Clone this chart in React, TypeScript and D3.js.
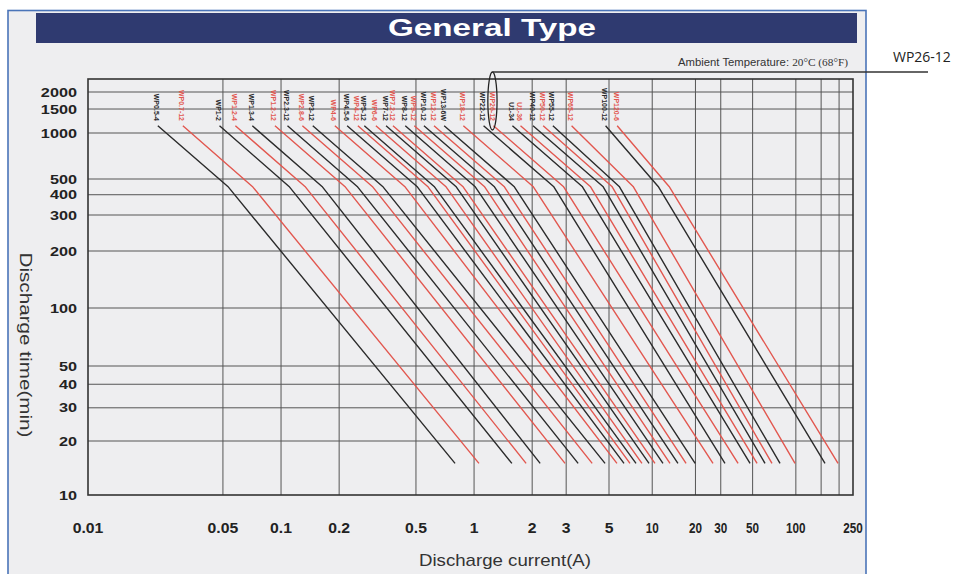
import React from "react";
import * as d3 from "d3";

// ---- data ----
const modelNames = [
  "WP0.5-4", "WP0.7-12", "WP1-2", "WP1.2-4", "WP1.3-4", "WP1.2-12", "WP2.3-12", "WP2.8-6",
  "WP3-12", "WP4-6", "WP4.5-6", "WP4-12", "WP5-12", "WP6-6", "WP7-12", "WP7.2-12",
  "WP8-12", "WP9-12", "WP10-12", "WP12-12", "WP13-6W", "WP18-12", "WP22-12", "WP26-12",
  "U1-34", "U1-36", "WP40-12", "WP50-12", "WP55-12", "WP65-12", "WP100-12", "WP120-6",
];
// discharge time (min) at the three vertices of every curve
const timePoints = [1130, 450, 15];
// discharge current (A) at those times
const currentTop = [
  0.023, 0.031, 0.048, 0.058, 0.071, 0.093, 0.108, 0.129,
  0.146, 0.19, 0.22, 0.25, 0.27, 0.31, 0.35, 0.38,
  0.44, 0.49, 0.55, 0.62, 0.70, 0.88, 1.12, 1.26,
  1.58, 1.74, 2.02, 2.28, 2.56, 3.2, 4.8, 5.7,
];
const currentKnee = [
  0.053, 0.071, 0.11, 0.133, 0.163, 0.214, 0.248, 0.297,
  0.336, 0.437, 0.506, 0.575, 0.621, 0.713, 0.805, 0.874,
  1.01, 1.13, 1.27, 1.43, 1.61, 2.02, 2.58, 2.9,
  3.63, 4.0, 4.65, 5.24, 5.89, 7.36, 11.0, 13.1,
];
const currentEnd = [
  0.797, 1.06, 1.57, 1.86, 2.2, 2.96, 3.46, 4.09,
  4.77, 5.68, 6.36, 7.0, 7.71, 8.48, 9.5, 10.45,
  11.88, 13.3, 15.1, 17.2, 19.9, 26.5, 32.1, 39.6,
  48.0, 53.7, 61.0, 68.2, 77.6, 98.7, 159.6, 196.7,
];
const xTickValues = [0.01, 0.05, 0.1, 0.2, 0.5, 1, 2, 3, 5, 10, 20, 30, 50, 100, 250];
const xGridValues = [0.05, 0.1, 0.2, 0.5, 1, 2, 3, 5, 10, 20, 30, 50, 100, 150, 200];
const yTickValues = [2000, 1500, 1000, 500, 400, 300, 200, 100, 50, 40, 30, 20, 10];
const yGridValues = [2000, 1500, 1000, 500, 400, 300, 200, 100, 50, 40, 30, 20];
const highlighted = "WP26-12";

// ---- scales (the scanned chart is unevenly stretched, so piecewise log scales) ----
const x = d3.scaleLog().domain([0.01, 5, 250]).range([88, 609, 853]);
const y = d3
  .scaleLog()
  .domain([10, 20, 50, 100, 200, 300, 500, 1000, 2000, 2460])
  .range([495, 441, 366, 308, 251, 215, 179, 133, 92, 79]);

const BLACK = "#2b2b2b";
const RED = "#e2574f";

export default function App() {
  const line = d3
    .line<[number, number]>()
    .x((d) => x(d[0]))
    .y((d) => y(d[1]));

  const curves = modelNames.map((name, i) => {
    const pts: [number, number][] = [
      [currentTop[i], timePoints[0]],
      [currentKnee[i], timePoints[1]],
      [currentEnd[i], timePoints[2]],
    ];
    return { name, color: i % 2 === 0 ? BLACK : RED, path: line(pts) || "", x0: x(currentTop[i]) };
  });

  const hiIdx = modelNames.indexOf(highlighted);
  const hiX = x(currentTop[hiIdx]) - 1;

  const x0 = x(0.01), x1 = x(250), yTop = y(2460), yBot = y(10);

  return (
    <svg width={962} height={574} style={{ position: "absolute", left: 0, top: 0, background: "#fff" }}>
      <rect x={8} y={10.5} width={858} height={570} fill="#eeeef0" stroke="#4a74b8" strokeWidth={1.6} />
      <rect x={36} y={13} width={821} height={30} fill="#2f3a70" />
      <text x={492} y={36} textAnchor="middle" fill="#fff" fontFamily="Liberation Sans, Arial" fontWeight="bold"
        fontSize={24} textLength={208} lengthAdjust="spacingAndGlyphs">General Type</text>
      <text x={848} y={66} textAnchor="end" fill="#333" fontSize={10.5} textLength={170} lengthAdjust="spacingAndGlyphs">
        <tspan fontFamily="Liberation Sans, Arial">Ambient Temperature: </tspan>
        <tspan fontFamily="Liberation Serif, Times New Roman">20°C (68°F)</tspan>
      </text>
      <text x={893} y={62} fill="#222" fontFamily="Open Sans, Liberation Sans" fontSize={14}>WP26-12</text>

      {/* grid */}
      {xGridValues.map((v) => (
        <line key={"gx" + v} x1={x(v)} x2={x(v)} y1={yTop} y2={yBot} stroke="#555" strokeWidth={1} />
      ))}
      {yGridValues.map((v) => (
        <line key={"gy" + v} x1={x0} x2={x1} y1={y(v)} y2={y(v)} stroke="#555" strokeWidth={1} />
      ))}
      <rect x={x0} y={yTop} width={x1 - x0} height={yBot - yTop} fill="none" stroke="#333" strokeWidth={1.6} />

      {/* curves */}
      {curves.map((c) => (
        <path key={c.name} d={c.path} fill="none" stroke={c.color} strokeWidth={1.4} strokeLinejoin="round" />
      ))}
      {curves.map((c) => (
        <text key={"l" + c.name} transform={`translate(${c.x0 - 1},121) rotate(90)`} textAnchor="end"
          dy="0.35em" fill={c.color} fontFamily="Liberation Sans, Arial" fontWeight="bold" fontSize={7}>
          {c.name}
        </text>
      ))}

      {/* highlight annotation */}
      <ellipse cx={hiX} cy={101} rx={4.6} ry={29} fill="none" stroke="#222" strokeWidth={1.3} />
      <line x1={hiX} x2={928} y1={72} y2={72} stroke="#333" strokeWidth={1.6} />

      {/* tick labels */}
      {xTickValues.map((v) => (
        <text key={"tx" + v} transform={`translate(${x(v)},533) scale(${v > 5 ? 0.78 : 1.05},1)`} textAnchor="middle"
          fill="#222" fontFamily="Liberation Sans, Arial" fontWeight="bold" fontSize={15}>{v}</text>
      ))}
      {yTickValues.map((v) => (
        <text key={"ty" + v} transform={`translate(77,${y(v)}) scale(1.3,1)`} textAnchor="end" dy="0.36em"
          fill="#222" fontFamily="Liberation Sans, Arial" fontWeight="bold" fontSize={12.5}>{v}</text>
      ))}

      {/* axis titles */}
      <text x={505} y={566} textAnchor="middle" fill="#333" fontFamily="Liberation Sans, Arial" fontSize={17}
        textLength={172} lengthAdjust="spacingAndGlyphs">Discharge current(A)</text>
      <text transform="translate(20,345) rotate(90)" textAnchor="middle" fill="#333" fontFamily="Liberation Sans, Arial"
        fontSize={16} textLength={185} lengthAdjust="spacingAndGlyphs">Discharge time(min)</text>
    </svg>
  );
}
